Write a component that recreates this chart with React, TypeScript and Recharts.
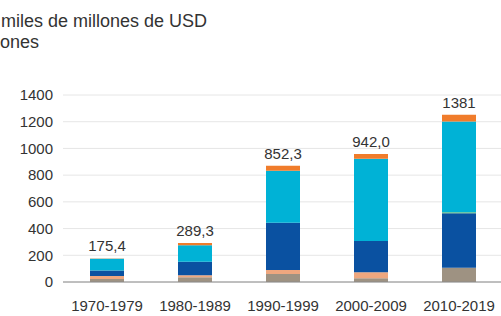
import React from 'react';
import { BarChart, Bar, XAxis, YAxis, CartesianGrid, LabelList } from 'recharts';

const categories = ['1970-1979', '1980-1989', '1990-1999', '2000-2009', '2010-2019'];
const grayVals = [22, 35, 60, 28, 107];
const peachVals = [22, 16, 30, 45, 0];
const darkBlueVals = [43, 100, 354, 234, 407];
const greenVals = [0, 0, 0, 0, 8];
const cyanVals = [88, 124, 389, 616, 679];
const orangeVals = [1, 17, 37, 35, 52];
const totalLabels = ['175,4', '289,3', '852,3', '942,0', '1381'];
const yTicks = [0, 200, 400, 600, 800, 1000, 1200, 1400];

const data = categories.map((c, i) => ({
  name: c,
  gray: grayVals[i],
  peach: peachVals[i],
  darkBlue: darkBlueVals[i],
  green: greenVals[i],
  cyan: cyanVals[i],
  orange: orangeVals[i],
  label: totalLabels[i],
}));

const FONT = '"Liberation Sans", Arial, sans-serif';
const TEXT = '#333333';

const TopLabel = (props: any) => {
  const { x, y, width, value } = props;
  return (
    <text
      x={Number(x) + Number(width) / 2}
      y={Number(y) - 7}
      textAnchor="middle"
      fontSize={15}
      fontFamily={FONT}
      fill={TEXT}
    >
      {value}
    </text>
  );
};

export default function App() {
  return (
    <div style={{ position: 'absolute', left: 0, top: 0, width: 501, height: 316, overflow: 'hidden', background: '#fff' }}>
      <svg width={501} height={60} style={{ position: 'absolute', left: 0, top: 0 }}>
        <text x={1} y={27} fontSize={18} fontFamily={FONT} fill={TEXT}>miles de millones de USD</text>
        <text x={0} y={48} fontSize={18} fontFamily={FONT} fill={TEXT}>ones</text>
      </svg>
      <div style={{ position: 'absolute', left: 0, top: 0 }}>
        <BarChart
          width={503}
          height={316}
          data={data}
          margin={{ top: 95, right: 0, bottom: 0, left: 0 }}
          barCategoryGap={0}
          barSize={34}
        >
          <CartesianGrid vertical={false} stroke="#e6e6e6" />
          <XAxis
            dataKey="name"
            tickLine={false}
            tickSize={0}
            tickMargin={18}
            height={34}
            axisLine={{ stroke: '#8a8a8a' }}
            tick={{ fontSize: 15, fontFamily: FONT, fill: TEXT }}
            interval={0}
          />
          <YAxis
            domain={[0, 1400]}
            ticks={yTicks}
            width={63}
            tickLine={false}
            axisLine={false}
            tickSize={0}
            tickMargin={10}
            tick={{ fontSize: 15, fontFamily: FONT, fill: TEXT }}
          />
          <Bar dataKey="gray" stackId="a" fill="#9e9282" isAnimationActive={false} />
          <Bar dataKey="peach" stackId="a" fill="#eea77f" isAnimationActive={false} />
          <Bar dataKey="darkBlue" stackId="a" fill="#0a51a1" isAnimationActive={false} />
          <Bar dataKey="green" stackId="a" fill="#6cc27a" isAnimationActive={false} />
          <Bar dataKey="cyan" stackId="a" fill="#00b2d6" isAnimationActive={false} />
          <Bar dataKey="orange" stackId="a" fill="#f07c2b" isAnimationActive={false}>
            <LabelList dataKey="label" content={TopLabel} />
          </Bar>
        </BarChart>
      </div>
    </div>
  );
}
